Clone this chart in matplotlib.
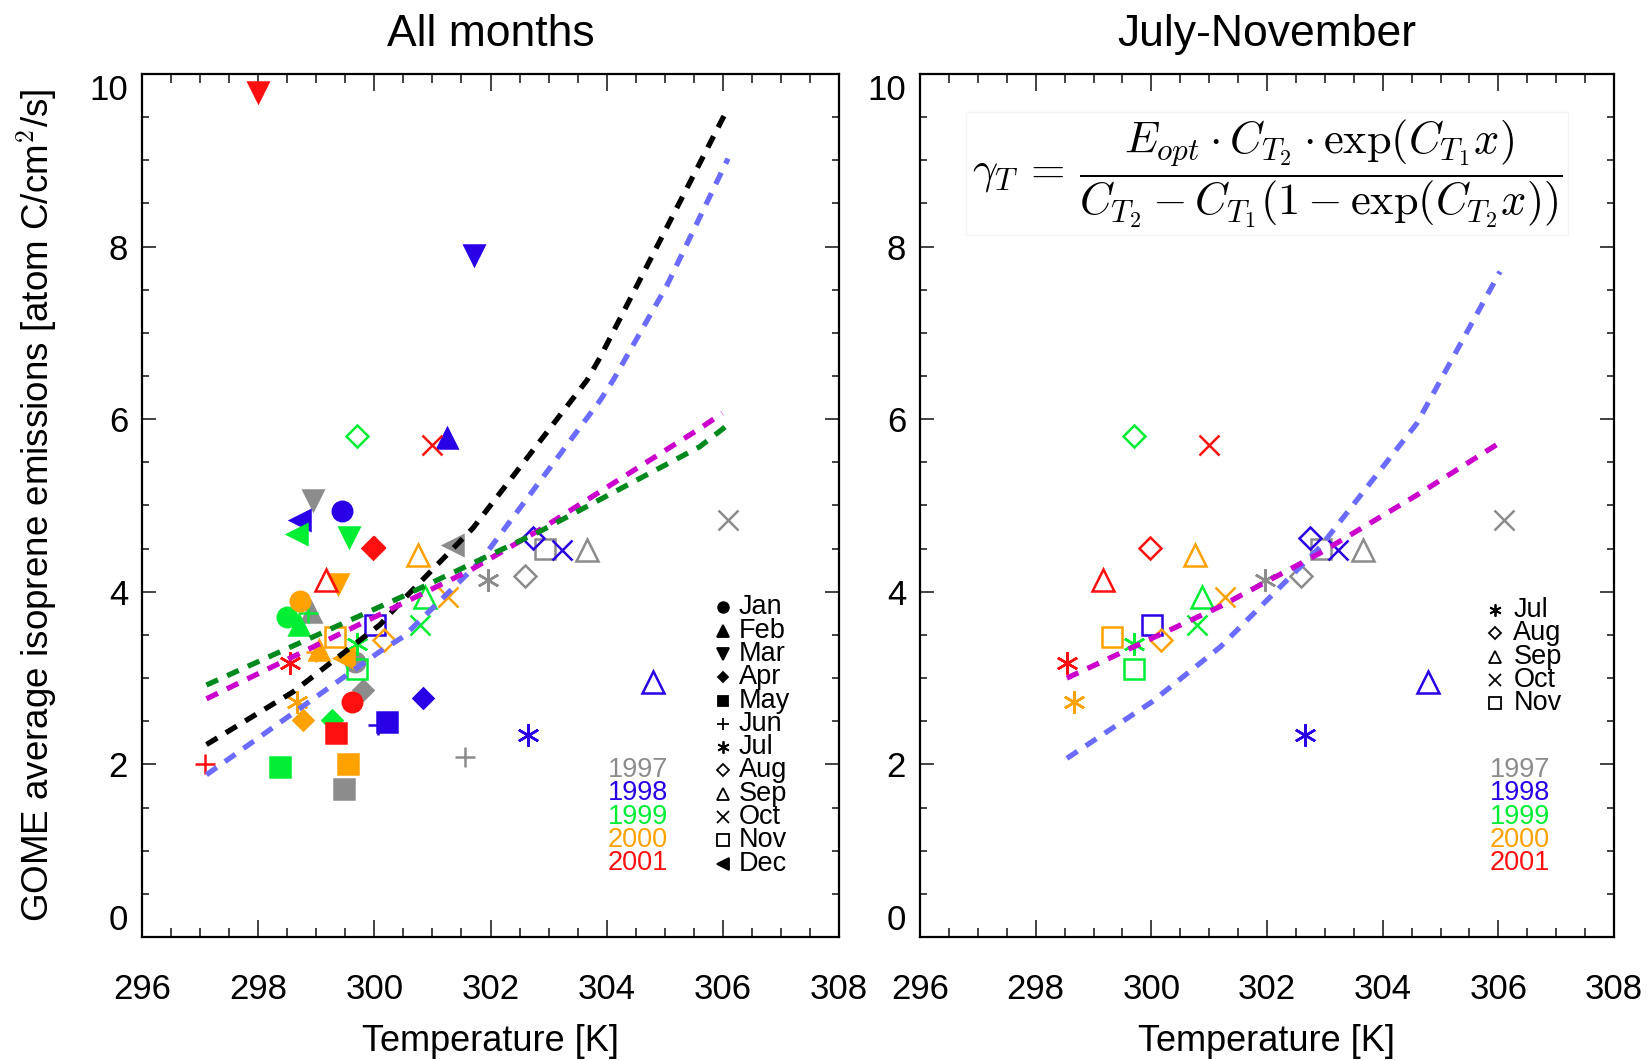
import matplotlib
matplotlib.use("Agg")
import matplotlib.pyplot as plt
from matplotlib.ticker import MultipleLocator

plt.rcParams["font.family"] = ["Liberation Sans", "DejaVu Sans"]
plt.rcParams["mathtext.fontset"] = "cm"

# monthly means: year, month, temperature [K], emission [atom C/cm2/s]
year = [1997, 1997, 1997, 1997, 1997, 1997, 1997, 1997, 1997, 1997, 1997, 1997,
        1998, 1998, 1998, 1998, 1998, 1998, 1998, 1998, 1998, 1998, 1998, 1998,
        1999, 1999, 1999, 1999, 1999, 1999, 1999, 1999, 1999, 1999, 1999, 1999,
        2000, 2000, 2000, 2000, 2000, 2000, 2000, 2000, 2000, 2000, 2000, 2000,
        2001, 2001, 2001, 2001, 2001, 2001, 2001, 2001, 2001]
month = [1, 2, 3, 4, 5, 6, 7, 8, 9, 10, 11, 12,
         1, 2, 3, 4, 5, 6, 7, 8, 9, 10, 11, 12,
         1, 2, 3, 4, 5, 6, 7, 8, 9, 10, 11, 12,
         1, 2, 3, 4, 5, 6, 7, 8, 9, 10, 11, 12,
         1, 3, 4, 5, 6, 7, 8, 9, 10]
temp = [299.67, 298.91, 298.94, 299.80, 299.47, 301.56, 301.96, 302.59, 303.66, 306.09, 302.94, 301.36,
        299.44, 301.25, 301.72, 300.83, 300.21, 300.07, 302.65, 302.74, 304.79, 303.23, 300.01, 298.72,
        298.49, 298.70, 299.57, 299.27, 298.38, 298.86, 299.70, 299.70, 300.88, 300.79, 299.70, 298.66,
        298.72, 299.04, 299.38, 298.78, 299.55, 299.00, 298.66, 300.16, 300.75, 301.27, 299.32, 299.47,
        299.61, 298.00, 300.00, 299.34, 297.08, 298.55, 299.98, 299.16, 301.00]
emis = [3.19, 3.77, 5.06, 2.86, 1.72, 2.09, 4.14, 4.18, 4.48, 4.83, 4.50, 4.54,
        4.94, 5.78, 7.90, 2.77, 2.49, 2.46, 2.34, 4.62, 2.96, 4.48, 3.61, 4.83,
        3.71, 3.62, 4.64, 2.51, 1.97, 3.75, 3.40, 5.80, 3.94, 3.61, 3.11, 4.67,
        3.89, 3.33, 4.09, 2.51, 2.01, 3.30, 2.72, 3.44, 4.43, 3.94, 3.48, 3.23,
        2.72, 9.79, 4.52, 2.36, 2.01, 3.18, 4.51, 4.14, 5.70]

month_names = ["Jan", "Feb", "Mar", "Apr", "May", "Jun",
               "Jul", "Aug", "Sep", "Oct", "Nov", "Dec"]
year_names = [1997, 1998, 1999, 2000, 2001]
year_colors = ["#8c8c8c", "#2a00e6", "#00ee33", "#ffa200", "#ff1010"]

x_ticks = [296, 298, 300, 302, 304, 306, 308]
y_ticks = [0, 2, 4, 6, 8, 10]

# fitted curves, all months
fit_black_x = [297.11, 298.6, 300.1, 300.44, 301.7, 303.66, 303.89, 306.07]
fit_black_y = [2.23, 2.84, 3.62, 3.87, 4.74, 6.45, 6.72, 9.58]
fit_blue_x = [297.11, 300.1, 300.5, 301.82, 303.89, 304.11, 305.03, 306.09]
fit_blue_y = [1.88, 3.31, 3.48, 4.35, 6.22, 6.45, 7.54, 9.02]
fit_mag_x = [297.11, 300.44, 301.65, 302.85, 305.6, 305.99]
fit_mag_y = [2.76, 3.85, 4.25, 4.72, 5.89, 6.07]
fit_green_x = [297.11, 300.5, 302.85, 305.6, 306.06]
fit_green_y = [2.92, 3.95, 4.70, 5.68, 5.92]

# fitted curves, July-November
jn_blue_x = [298.54, 300.0, 301.19, 302.92, 304.59, 306.03]
jn_blue_y = [2.07, 2.72, 3.36, 4.52, 5.95, 7.71]
jn_mag_x = [298.54, 301.19, 302.92, 304.59, 306.03]
jn_mag_y = [3.0, 3.83, 4.45, 5.12, 5.73]

# marker style per month: (marker, filled, size)
month_style = {
    1: ("o", True, 14), 2: ("^", True, 15), 3: ("v", True, 15),
    4: ("D", True, 10), 5: ("s", True, 14), 6: ("+", False, 15),
    7: ((6, 2, 0), False, 16), 8: ("D", False, 11), 9: ("^", False, 16),
    10: ("x", False, 15), 11: ("s", False, 15), 12: ("<", True, 15),
}

fig = plt.figure(figsize=(16.49, 10.61), dpi=100)
ax1 = fig.add_axes([142 / 1649, 124 / 1061, 697 / 1649, 863 / 1061])
ax2 = fig.add_axes([920 / 1649, 124 / 1061, 694 / 1649, 863 / 1061])


def draw_points(ax, months):
    for y, m, t, e in zip(year, month, temp, emis):
        if m not in months:
            continue
        c = year_colors[year_names.index(y)]
        mk, filled, ms = month_style[m]
        ax.plot([t], [e], linestyle="none", marker=mk, markersize=ms,
                markerfacecolor=c if filled else "none", markeredgecolor=c,
                markeredgewidth=1.8, zorder=3)


def dashed(ax, x, y, color):
    ax.plot(x, y, color=color, lw=3.8, linestyle=(0, (2.4, 1.9)), zorder=4)


def style_axes(ax, title):
    ax.set_xlim(296, 308)
    ax.set_ylim(0, 10)
    ax.set_xticks(x_ticks)
    ax.set_yticks(y_ticks)
    ax.xaxis.set_minor_locator(MultipleLocator(0.5))
    ax.yaxis.set_minor_locator(MultipleLocator(0.5))
    ax.tick_params(axis="both", which="both", direction="in", top=True,
                   right=True, width=1.2, color="#222222")
    ax.tick_params(axis="x", which="major", length=12, pad=26, labelsize=25)
    ax.tick_params(axis="x", which="minor", length=6.5)
    ax.tick_params(axis="y", which="major", length=10, pad=10, labelsize=25)
    ax.tick_params(axis="y", which="minor", length=5)
    for s in ax.spines.values():
        s.set_linewidth(1.6)
    ax.set_xlabel("Temperature [K]", fontsize=26, labelpad=13)
    ax.set_title(title, fontsize=32, pad=20)
    labs = ax.get_yticklabels()
    labs[0].set_va("bottom")
    labs[-1].set_va("top")


def month_key(ax, months, xm, xt, ytop, dy):
    for i, m in enumerate(months):
        mk, filled, ms = month_style[m]
        ax.plot([xm], [ytop - i * dy], transform=ax.transAxes, clip_on=False,
                linestyle="none", marker=mk, markersize=ms * 0.55,
                markerfacecolor="black" if filled else "none",
                markeredgecolor="black", markeredgewidth=1.3)
        ax.text(xt, ytop - i * dy, month_names[m - 1], transform=ax.transAxes,
                fontsize=19.5, va="center", ha="left")


def year_key(ax, x, ytop, dy):
    for i, (y, c) in enumerate(zip(year_names, year_colors)):
        ax.text(x, ytop - i * dy, str(y), color=c, transform=ax.transAxes,
                fontsize=19.5, va="center", ha="left")


# left panel
draw_points(ax1, range(1, 13))
dashed(ax1, fit_black_x, fit_black_y, "black")
dashed(ax1, fit_blue_x, fit_blue_y, "#6b6bff")
dashed(ax1, fit_mag_x, fit_mag_y, "#cc00cc")
dashed(ax1, fit_green_x, fit_green_y, "#008a1e")
dy = 23.3 / 863
month_key(ax1, range(1, 13), 0.834, 0.856, 0.382, dy)
year_key(ax1, 0.668, 0.1935, dy)
ax1.set_ylabel("GOME average isoprene emissions [atom C/cm$^2$/s]",
               fontsize=26.5, labelpad=22)
style_axes(ax1, "All months")

# right panel
draw_points(ax2, range(7, 12))
dashed(ax2, jn_blue_x, jn_blue_y, "#6b6bff")
dashed(ax2, jn_mag_x, jn_mag_y, "#cc00cc")
month_key(ax2, range(7, 12), 0.828, 0.855, 0.379, dy)
year_key(ax2, 0.821, 0.1935, dy)
ax2.text(0.5, 0.885,
         r"$\gamma_T\,=\,\dfrac{E_{opt}\cdot C_{T_2}\cdot\exp(C_{T_1}x)}"
         r"{C_{T_2}-C_{T_1}(1-\exp(C_{T_2}x))}$",
         transform=ax2.transAxes, ha="center", va="center", fontsize=32,
         bbox=dict(facecolor="white", edgecolor="#f4f4f4", pad=4), zorder=5)
style_axes(ax2, "July-November")

fig.savefig("out.png", dpi=100)
